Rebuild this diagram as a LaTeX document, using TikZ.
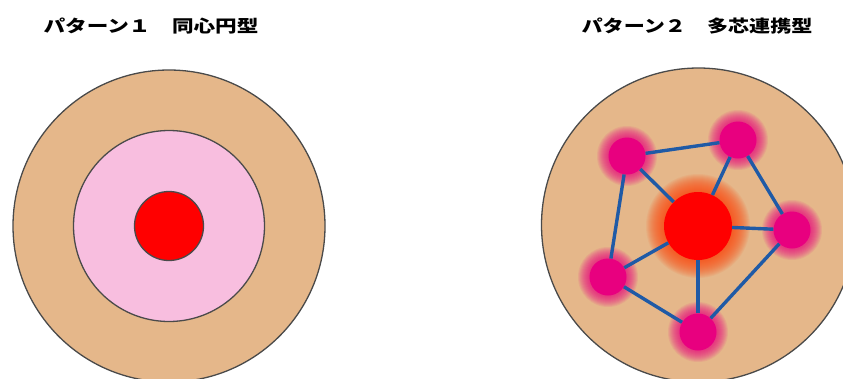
\documentclass[tikz,border=0pt]{standalone}
\usepackage{fontspec}
\newfontfamily\cjk{Noto Sans CJK JP}[BoldFont={Noto Sans CJK JP Black}]
\definecolor{tan}{HTML}{E5B78A}
\definecolor{pinkfill}{HTML}{F8BEDF}
\definecolor{corered}{HTML}{FF0000}
\definecolor{mag}{HTML}{E8007F}
\definecolor{glowred}{HTML}{FF4A10}
\definecolor{linkblue}{HTML}{1F5AA6}
\definecolor{rim}{HTML}{4A4A4A}
\tikzset{
  title/.style={font=\cjk\bfseries\fontsize{17}{17}\selectfont, text=black, inner sep=0pt},
  ring/.style={draw=rim, line width=1.3pt},
  sub/.style={circle, fill=mag, minimum size=37pt, inner sep=0pt},
  core/.style={circle, fill=corered, minimum size=68pt, inner sep=0pt},
  link/.style={draw=linkblue, line width=3.4pt},
}
\begin{document}
\begin{tikzpicture}[x=1pt,y=-1pt]
\useasboundingbox (0,0) rectangle (843,378);
\fill[white] (0,0) rectangle (843,378);
\begin{scope}
\clip (0,0) rectangle (843,378);
% titles
\node[title, xscale=1.27] (t1) at (151,26) {パターン１　同心円型};
\node[title, xscale=1.24] (t2) at (697,26) {パターン２　多芯連携型};
% pattern 1
\filldraw[ring, fill=tan] (169,226) circle (156);
\filldraw[ring, fill=pinkfill] (169,226) circle (95.5);
\node[circle, draw=rim, line width=1.3pt, fill=corered, minimum size=69pt, inner sep=0pt] (c1) at (169,226) {};
% pattern 2
\filldraw[ring, fill=tan] (698.5,225) circle (157);
\coordinate (pc) at (698,226);
\coordinate (pa) at (627,156);
\coordinate (pb) at (738,140);
\coordinate (pcc) at (792,230);
\coordinate (pd) at (608,277);
\coordinate (pe) at (698,332);
% glows
\foreach \r in {35,36,...,52} {\fill[glowred, opacity=0.08] (pc) circle (\r);}
\foreach \p in {pa,pb,pcc,pd,pe} {
  \foreach \r in {19,20,...,30} {\fill[mag, opacity=0.09] (\p) circle (\r);}
}
\node[core] (C) at (pc) {};
\node[sub] (A) at (pa) {};
\node[sub] (B) at (pb) {};
\node[sub] (R) at (pcc) {};
\node[sub] (D) at (pd) {};
\node[sub] (E) at (pe) {};
\end{scope}
\draw[link] (A) -- (B);
\draw[link] (A) -- (C);
\draw[link] (A) -- (D);
\draw[link] (B) -- (C);
\draw[link] (B) -- (R);
\draw[link] (R) -- (C);
\draw[link] (R) -- (E);
\draw[link] (D) -- (C);
\draw[link] (D) -- (E);
\draw[link] (E) -- (C);
\end{tikzpicture}
\end{document}
